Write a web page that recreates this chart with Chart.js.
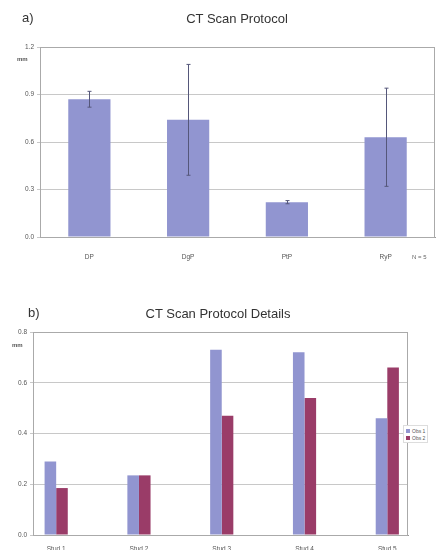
<!DOCTYPE html>
<html>
<head>
<meta charset="utf-8">
<script src="https://cdn.jsdelivr.net/npm/chart.js@4.4.1/dist/chart.umd.min.js"></script>
<style>
  html, body { margin: 0; padding: 0; background: #fff; }
  body { width: 440px; height: 550px; position: relative; overflow: hidden;
         font-family: "Liberation Sans", Arial, sans-serif; color: #333; }
  .panel { position: absolute; left: 0; width: 440px; height: 270px; }
  .panel canvas { position: absolute; left: 0; top: 0; }
  .txt { position: absolute; white-space: nowrap; }
  .letter { font-size: 13px; }
  .title { font-size: 13px; transform: translateX(-50%); }
  .unit { font-size: 6px; color: #555; font-weight: bold; }
  .note { font-size: 6px; color: #666; }
  .legend { position: absolute; font-size: 5px; color: #555; border: 1px solid #ddd; padding: 1px 2px; background: #fff; }
  .legend div { display: flex; align-items: center; height: 7px; }
  .legend span.sw { display: inline-block; width: 4px; height: 4px; margin-right: 2px; }
</style>
</head>
<body>
<div class="panel" style="top:0">
  <canvas id="chartA" width="440" height="270"></canvas>
  <div class="txt letter" style="left:22px; top:10px">a)</div>
  <div class="txt title" style="left:237px; top:11px">CT Scan Protocol</div>
  <div class="txt unit" style="left:17px; top:56px">mm</div>
  <div class="txt note" style="left:412px; top:254px">N = 5</div>
</div>
<div class="panel" style="top:280px">
  <canvas id="chartB" width="440" height="270"></canvas>
  <div class="txt letter" style="left:28px; top:25px">b)</div>
  <div class="txt title" style="left:218px; top:26px">CT Scan Protocol Details</div>
  <div class="txt unit" style="left:12px; top:62px">mm</div>
  <div class="legend" id="legendB" style="left:403px; top:145px"></div>
</div>
<script>
// Panel a: protocol means with standard deviation
const protocols = ['DP', 'DgP', 'PtP', 'RyP'];
const protocolMeans = [0.87, 0.74, 0.22, 0.63];
const protocolSD = [0.05, 0.35, 0.01, 0.31];
const ticksA = [0.0, 0.3, 0.6, 0.9, 1.2];

// Panel b: per-study details, two series
const studies = ['Stud 1', 'Stud 2', 'Stud 3', 'Stud 4', 'Stud 5'];
const seriesNames = ['Obs 1', 'Obs 2'];
const seriesOne = [0.29, 0.235, 0.73, 0.72, 0.46];
const seriesTwo = [0.185, 0.235, 0.47, 0.54, 0.66];
const ticksB = [0.0, 0.2, 0.4, 0.6, 0.8];

const BLUE = '#9195d0';
const PLUM = '#9a3c68';
const GRID = '#c8c8c8';
const tickFont = { family: '"Liberation Sans", Arial, sans-serif', size: 6.5 };

// Outline of the plot area (top and right edges, like a framed chart)
const frame = {
  id: 'frame',
  afterDatasetsDraw(chart) {
    const { ctx, chartArea: a } = chart;
    ctx.save();
    ctx.strokeStyle = '#aaa';
    ctx.lineWidth = 1;
    ctx.strokeRect(a.left + 0.5, a.top + 0.5, a.right - a.left - 1, a.bottom - a.top);
    ctx.restore();
  }
};

// Vertical error bars drawn from the value arrays through the scales
const errorBars = {
  id: 'errorBars',
  afterDatasetsDraw(chart) {
    const { ctx, scales: { x, y } } = chart;
    ctx.save();
    ctx.strokeStyle = '#55577a';
    ctx.lineWidth = 1;
    protocolMeans.forEach((m, i) => {
      const px = Math.round(x.getPixelForValue(i)) + 0.5;
      const top = y.getPixelForValue(m + protocolSD[i]);
      const bot = y.getPixelForValue(m - protocolSD[i]);
      ctx.beginPath();
      ctx.moveTo(px, top); ctx.lineTo(px, bot);
      ctx.moveTo(px - 2, top); ctx.lineTo(px + 2, top);
      ctx.moveTo(px - 2, bot); ctx.lineTo(px + 2, bot);
      ctx.stroke();
    });
    ctx.restore();
  }
};

new Chart(document.getElementById('chartA'), {
  type: 'bar',
  data: {
    labels: protocols,
    datasets: [{ data: protocolMeans, backgroundColor: BLUE, borderWidth: 0,
                 barPercentage: 0.45, categoryPercentage: 0.95 }]
  },
  options: {
    responsive: false, animation: false,
    layout: { padding: { top: 47, right: 5, left: 0, bottom: 0 } },
    plugins: { legend: { display: false }, title: { display: false }, tooltip: { enabled: false } },
    scales: {
      x: {
        grid: { display: false },
        border: { color: '#999' },
        ticks: { color: '#555', font: tickFont, padding: 8 },
        afterFit(s) { s.height = 33; }
      },
      y: {
        min: 0, max: 1.2,
        afterBuildTicks(s) { s.ticks = ticksA.map(v => ({ value: v })); },
        grid: { color: GRID, tickLength: 3 },
        border: { color: '#999' },
        ticks: { color: '#555', font: tickFont, padding: 3, callback: v => v.toFixed(1) },
        afterFit(s) { s.width = 40; }
      }
    }
  },
  plugins: [frame, errorBars]
});

new Chart(document.getElementById('chartB'), {
  type: 'bar',
  data: {
    datasets: [
      { label: seriesNames[0], data: seriesOne.map((v, i) => ({ x: i + 1, y: v })),
        backgroundColor: BLUE, borderWidth: 0, barPercentage: 1, categoryPercentage: 0.28 },
      { label: seriesNames[1], data: seriesTwo.map((v, i) => ({ x: i + 1, y: v })),
        backgroundColor: PLUM, borderWidth: 0, barPercentage: 1, categoryPercentage: 0.28 }
    ]
  },
  options: {
    responsive: false, animation: false,
    layout: { padding: { top: 52, right: 32, left: 0, bottom: 0 } },
    plugins: { legend: { display: false }, title: { display: false }, tooltip: { enabled: false } },
    scales: {
      x: {
        type: 'linear', min: 0.72, max: 5.25, offset: false,
        afterBuildTicks(s) { s.ticks = studies.map((_, i) => ({ value: i + 1 })); },
        grid: { display: false },
        border: { color: '#999' },
        ticks: { color: '#555', font: tickFont, padding: 2, callback: v => studies[v - 1] },
        afterFit(s) { s.height = 15; }
      },
      y: {
        min: 0, max: 0.8,
        afterBuildTicks(s) { s.ticks = ticksB.map(v => ({ value: v })); },
        grid: { color: GRID, tickLength: 3 },
        border: { color: '#999' },
        ticks: { color: '#555', font: tickFont, padding: 3, callback: v => v.toFixed(1) },
        afterFit(s) { s.width = 33; }
      }
    }
  },
  plugins: [frame]
});

// Legend for panel b built from the series names
const legendB = document.getElementById('legendB');
[BLUE, PLUM].forEach((c, i) => {
  const row = document.createElement('div');
  row.innerHTML = '<span class="sw" style="background:' + c + '"></span>' + seriesNames[i];
  legendB.appendChild(row);
});
</script>
</body>
</html>
